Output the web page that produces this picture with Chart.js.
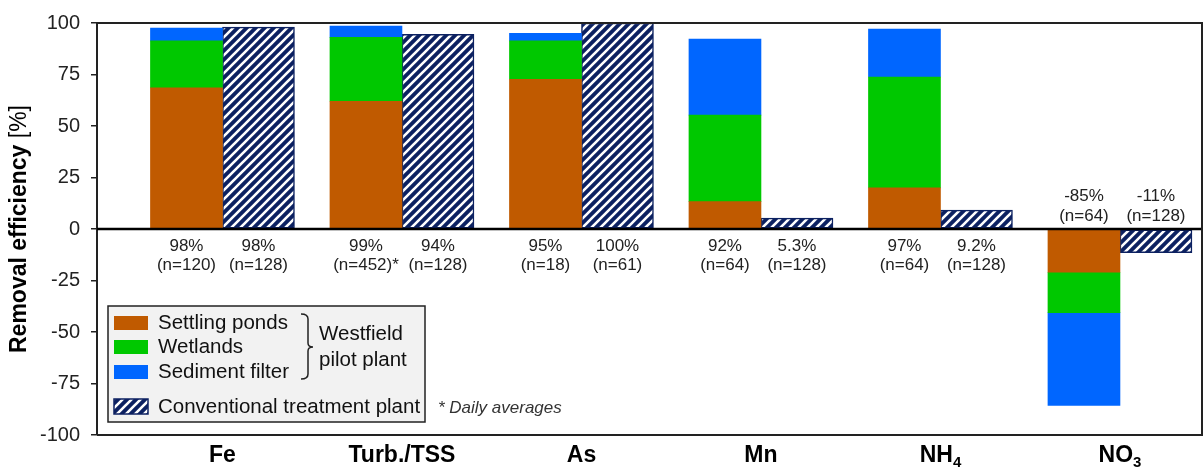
<!DOCTYPE html>
<html>
<head>
<meta charset="utf-8">
<script src="https://cdn.jsdelivr.net/npm/chart.js@4.4.0/dist/chart.umd.min.js"></script>
<style>
body { margin: 0; background: #fff; }
#wrap { width: 1203px; height: 468px; position: relative; }
</style>
</head>
<body>
<div id="wrap"><canvas id="myChart"></canvas></div>
<script>
// data
const categories = ['Fe', 'Turb./TSS', 'As', 'Mn', 'NH4', 'NO3'];
const settling = [68.5, 62, 72.7, 13.3, 20, -21];
const wetlands = [22.8, 31, 18.6, 42, 53.8, -19.6];
const sedFilter = [6.2, 5.5, 3.7, 36.9, 23.3, -45];
const conventional = [98, 94.5, 100, 5.3, 9.2, -11.5];

const pilotPct = ['98%', '99%', '95%', '92%', '97%', '-85%'];
const pilotN = ['(n=120)', '(n=452)*', '(n=18)', '(n=64)', '(n=64)', '(n=64)'];
const convPct = ['98%', '94%', '100%', '5.3%', '9.2%', '-11%'];
const convN = ['(n=128)', '(n=128)', '(n=61)', '(n=128)', '(n=128)', '(n=128)'];

const yTicks = [-100, -75, -50, -25, 0, 25, 50, 75, 100];

const FONT = '"Liberation Sans", Arial, Helvetica, sans-serif';
const navy = '#0c2161';
const cSettling = '#c05a00';
const cWetlands = '#00c800';
const cFilter = '#0066ff';

const canvas = document.getElementById('myChart');
const ctx0 = canvas.getContext('2d');

function makeHatch() {
  const c = document.createElement('canvas');
  c.width = 9; c.height = 9;
  const g = c.getContext('2d');
  g.fillStyle = navy;
  g.fillRect(0, 0, 9, 9);
  g.strokeStyle = '#ffffff';
  g.lineWidth = 2.6;
  g.beginPath();
  g.moveTo(0, 9); g.lineTo(9, 0);
  g.moveTo(-1, 1); g.lineTo(1, -1);
  g.moveTo(8, 10); g.lineTo(10, 8);
  g.stroke();
  return ctx0.createPattern(c, 'repeat');
}
const hatch = makeHatch();

function toPoints(arr) {
  return arr.map((v, i) => ({ x: i, y: v }));
}

function drawCategory(ctx, label, cx, baseY) {
  const m = label.match(/^(.*?)(\d)$/);
  ctx.fillStyle = '#000';
  ctx.textBaseline = 'alphabetic';
  ctx.font = 'bold 23px ' + FONT;
  if (!m) {
    ctx.textAlign = 'center';
    ctx.fillText(label, cx, baseY);
    return;
  }
  const w1 = ctx.measureText(m[1]).width;
  ctx.font = 'bold 15px ' + FONT;
  const w2 = ctx.measureText(m[2]).width;
  const x0 = cx - (w1 + w2) / 2;
  ctx.textAlign = 'left';
  ctx.font = 'bold 23px ' + FONT;
  ctx.fillText(m[1], x0, baseY);
  ctx.font = 'bold 15px ' + FONT;
  ctx.fillText(m[2], x0 + w1, baseY + 5);
}

const extras = {
  id: 'extras',
  afterDatasetsDraw(chart) {
    const ctx = chart.ctx;
    const a = chart.chartArea;
    const y0 = chart.scales.y.getPixelForValue(0);
    ctx.save();
    // zero line
    ctx.strokeStyle = '#000';
    ctx.lineWidth = 2.5;
    ctx.beginPath();
    ctx.moveTo(a.left, y0);
    ctx.lineTo(a.right, y0);
    ctx.stroke();
    // frame
    ctx.strokeStyle = '#222';
    ctx.lineWidth = 2;
    ctx.beginPath();
    ctx.moveTo(a.left, a.top);
    ctx.lineTo(a.right, a.top);
    ctx.lineTo(a.right, a.bottom);
    ctx.lineTo(a.left, a.bottom);
    ctx.stroke();
    ctx.restore();
  },
  afterDraw(chart) {
    const ctx = chart.ctx;
    const a = chart.chartArea;
    const ys = chart.scales.y;
    const xs = chart.scales.x;
    const y0 = ys.getPixelForValue(0);
    const pilotMeta = chart.getDatasetMeta(0);
    const convMeta = chart.getDatasetMeta(3);
    ctx.save();

    // value labels
    ctx.font = '17px ' + FONT;
    ctx.fillStyle = '#222';
    ctx.textAlign = 'center';
    ctx.textBaseline = 'middle';
    for (let i = 0; i < categories.length; i++) {
      const neg = settling[i] < 0;
      const l1 = neg ? y0 - 33 : y0 + 17;
      const l2 = neg ? y0 - 13 : y0 + 36;
      const px = pilotMeta.data[i].x;
      const cx = convMeta.data[i].x;
      ctx.fillText(pilotPct[i], px, l1);
      ctx.fillText(pilotN[i], px, l2);
      ctx.fillText(convPct[i], cx, l1);
      ctx.fillText(convN[i], cx, l2);
    }

    // category labels
    for (let i = 0; i < categories.length; i++) {
      drawCategory(ctx, categories[i], xs.getPixelForValue(i), 462);
    }

    // y title
    ctx.save();
    ctx.translate(20, (a.top + a.bottom) / 2);
    ctx.rotate(-Math.PI / 2);
    ctx.textBaseline = 'middle';
    ctx.textAlign = 'left';
    ctx.fillStyle = '#000';
    const t1 = 'Removal efficiency ';
    const t2 = '[%]';
    ctx.font = 'bold 23px ' + FONT;
    const w1 = ctx.measureText(t1).width;
    ctx.font = '23px ' + FONT;
    const w2 = ctx.measureText(t2).width;
    const sx = -(w1 + w2) / 2;
    ctx.font = 'bold 23px ' + FONT;
    ctx.fillText(t1, sx, 0);
    ctx.font = '23px ' + FONT;
    ctx.fillText(t2, sx + w1, 0);
    ctx.restore();

    // legend box
    ctx.fillStyle = '#f2f2f2';
    ctx.fillRect(108, 306, 317, 116);
    ctx.strokeStyle = '#222';
    ctx.lineWidth = 1.5;
    ctx.strokeRect(108, 306, 317, 116);

    const items = [
      [cSettling, 'Settling ponds', 316],
      [cWetlands, 'Wetlands', 340],
      [cFilter, 'Sediment filter', 365]
    ];
    ctx.font = '20.5px ' + FONT;
    ctx.textBaseline = 'middle';
    ctx.textAlign = 'left';
    items.forEach(it => {
      ctx.fillStyle = it[0];
      ctx.fillRect(114, it[2], 34, 14);
      ctx.fillStyle = '#111';
      ctx.fillText(it[1], 158, it[2] + 7);
    });
    ctx.fillStyle = hatch;
    ctx.fillRect(114, 399, 34, 15);
    ctx.strokeStyle = navy;
    ctx.lineWidth = 1.5;
    ctx.strokeRect(114, 399, 34, 15);
    ctx.fillStyle = '#111';
    ctx.fillText('Conventional treatment plant', 158, 407);

    // bracket
    ctx.strokeStyle = '#222';
    ctx.lineWidth = 1.5;
    ctx.beginPath();
    ctx.moveTo(301, 314);
    ctx.quadraticCurveTo(308, 314, 308, 319);
    ctx.lineTo(308, 343);
    ctx.quadraticCurveTo(308, 347, 313, 347);
    ctx.quadraticCurveTo(308, 347, 308, 351);
    ctx.lineTo(308, 374);
    ctx.quadraticCurveTo(308, 379, 301, 379);
    ctx.stroke();
    ctx.fillStyle = '#111';
    ctx.fillText('Westfield', 319, 334);
    ctx.fillText('pilot plant', 319, 360);

    // footnote
    ctx.font = 'italic 17px ' + FONT;
    ctx.fillStyle = '#333';
    ctx.fillText('* Daily averages', 438, 408);

    ctx.restore();
  }
};

const data = {
  datasets: [
    { label: 'Settling ponds', data: toPoints(settling), backgroundColor: cSettling, stack: 'pilot' },
    { label: 'Wetlands', data: toPoints(wetlands), backgroundColor: cWetlands, stack: 'pilot' },
    { label: 'Sediment filter', data: toPoints(sedFilter), backgroundColor: cFilter, stack: 'pilot' },
    { label: 'Conventional treatment plant', data: toPoints(conventional), backgroundColor: hatch,
      borderColor: navy, borderWidth: 1.5, borderSkipped: false, stack: 'conv' }
  ]
};

const config = {
  type: 'bar',
  data: data,
  options: {
    responsive: true,
    maintainAspectRatio: false,
    animation: false,
    layout: { padding: { top: 23, right: 1, bottom: 33, left: 0 } },
    barThickness: 72,
    plugins: {
      legend: { display: false },
      tooltip: { enabled: false }
    },
    scales: {
      x: {
        type: 'linear',
        display: false,
        offset: false,
        grid: { offset: false },
        min: -0.699,
        max: 5.457,
        ticks: { stepSize: 1, includeBounds: false }
      },
      y: {
        stacked: true,
        min: -100,
        max: 100,
        afterBuildTicks: s => { s.ticks = yTicks.map(v => ({ value: v })); },
        afterFit: s => { s.width = 97; },
        border: { display: true, color: '#222', width: 2 },
        grid: { drawOnChartArea: false, drawTicks: true, tickLength: 6, color: '#222', lineWidth: 1.5 },
        ticks: {
          padding: 11,
          color: '#222',
          font: { family: FONT, size: 20 }
        }
      }
    }
  },
  plugins: [extras]
};

const myChart = new Chart(canvas, config);
</script>
</body>
</html>
